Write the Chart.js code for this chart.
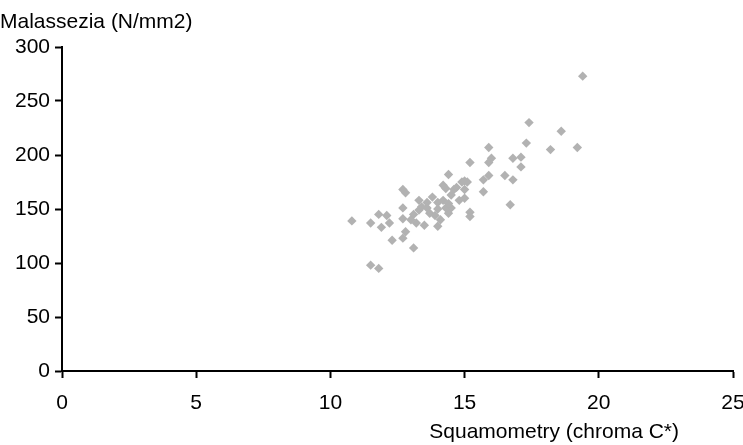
<!DOCTYPE html>
<html>
<head>
<meta charset="utf-8">
<script src="https://cdn.jsdelivr.net/npm/chart.js@4"></script>
<style>
html,body{margin:0;padding:0;background:#fff;}
#wrap{width:743px;height:445px;position:relative;}
</style>
</head>
<body>
<div id="wrap"><canvas id="chart" width="743" height="445"></canvas></div>
<script>
// squamometry (chroma C*) per sample
const squamX = [10.8,11.5,11.8,12.1,11.9,12.2,12.3,12.7,12.7,12.7,12.8,12.7,13.1,11.5,11.8,
  13.3,13.3,13.6,13.7,14.0,14.2,14.1,13.2,13.8,14.4,14.2,14.5,14.6,14.8,14.9,15.0,15.0,15.2,15.2,
  15.2,15.1,15.7,15.7,15.9,15.9,16.0,15.9,16.5,16.8,16.7,16.8,17.1,17.1,17.3,17.4,18.6,18.2,19.2,19.4,
  14.5,14.4,14.3,13.9,13.5,14.0,13.4,13.6,14.0,14.4,13.1,12.8,14.3,14.7,15.0,13.0];
// malassezia count (N/mm2)
const malY = [139,137,145,144,133,137,121,168,151,141,129,123,114,98,95,
  158,149,156,146,156,158,140,137,161,182,172,163,168,158,175,168,160,147,143,
  193,175,177,166,181,207,197,193,181,177,154,197,198,189,211,230,222,205,207,273,
  151,146,151,144,135,134,152,151,150,155,145,165,169,170,176,140];

const xTicks = [0,5,10,15,20,25];
const yTicks = [0,50,100,150,200,250,300];
const yTitle = "Malassezia (N/mm2)";
const xTitle = "Squamometry (chroma C*)";

const pts = squamX.map((x,i)=>({x:x,y:malY[i]}));
const FONT = "'Liberation Sans', Arial, sans-serif";
const FS = 21;

const titles = {
  id:"titles",
  afterDraw(c){
    const ctx=c.ctx;
    ctx.save();
    ctx.fillStyle="#000";
    ctx.font=FS+"px "+FONT;
    ctx.textBaseline="alphabetic";
    ctx.textAlign="left";
    ctx.fillText(yTitle,0,28);
    ctx.textAlign="right";
    ctx.fillText(xTitle,679,438);
    ctx.restore();
  }
};

new Chart(document.getElementById("chart"),{
  type:"scatter",
  data:{datasets:[{
    data:pts,
    pointStyle:"rectRot",
    pointRadius:4.7,
    backgroundColor:"#b2b2b2",
    borderColor:"#b2b2b2",
    borderWidth:0
  }]},
  options:{
    responsive:false,
    animation:false,
    events:[],
    layout:{padding:{top:47,right:10,left:0,bottom:0}},
    plugins:{legend:{display:false},tooltip:{enabled:false}},
    scales:{
      x:{
        type:"linear",min:0,max:25,
        afterBuildTicks:s=>{s.ticks=xTicks.map(v=>({value:v}));},
        afterFit:s=>{s.height=74;s.paddingLeft=0;s.paddingRight=0;},
        grid:{display:true,drawOnChartArea:false,drawTicks:true,tickLength:7,tickWidth:2,tickColor:"#000"},
        border:{display:true,color:"#000",width:2},
        ticks:{color:"#000",font:{size:FS,family:FONT},padding:13,maxRotation:0}
      },
      y:{
        type:"linear",min:0,max:300,
        afterBuildTicks:s=>{s.ticks=yTicks.map(v=>({value:v}));},
        afterFit:s=>{s.width=62;s.paddingTop=0;s.paddingBottom=0;},
        grid:{display:true,drawOnChartArea:false,drawTicks:true,tickLength:7,tickWidth:2,tickColor:"#000"},
        border:{display:true,color:"#000",width:2},
        ticks:{color:"#000",font:{size:FS,family:FONT},padding:5}
      }
    }
  },
  plugins:[titles]
});
</script>
</body>
</html>
